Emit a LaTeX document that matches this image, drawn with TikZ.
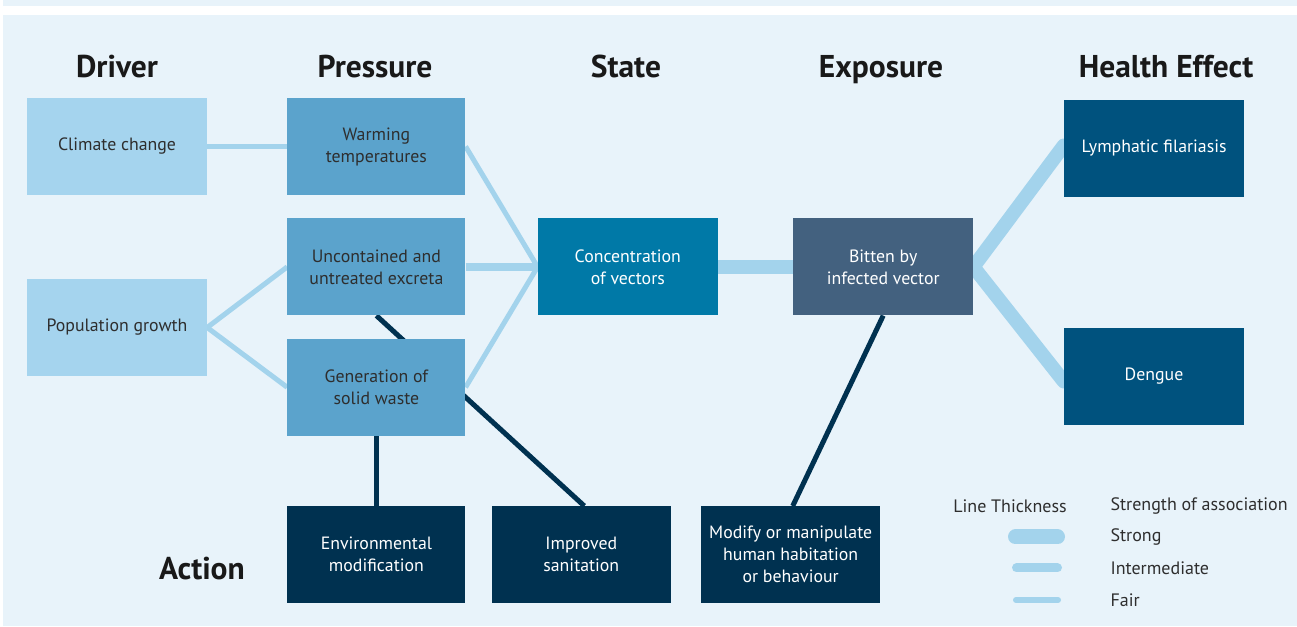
\documentclass[tikz,border=0pt]{standalone}
\usepackage{fontspec}
\setmainfont{PT Sans}
\usetikzlibrary{positioning}
\definecolor{bgcolor}{HTML}{E8F3FA}
\definecolor{drivercolor}{HTML}{A5D4EE}
\definecolor{presscolor}{HTML}{5BA3CC}
\definecolor{statecolor}{HTML}{0079A7}
\definecolor{expcolor}{HTML}{43617F}
\definecolor{healthcolor}{HTML}{00527E}
\definecolor{actcolor}{HTML}{003150}
\definecolor{linkcolor}{HTML}{A3D3EC}
\definecolor{txtcolor}{HTML}{2E2E2E}
\pgfdeclarelayer{bg}
\pgfdeclarelayer{links}
\pgfsetlayers{bg,links,main}

\begin{document}
\begin{tikzpicture}[
    x=1pt, y=1pt,
    box/.style={minimum width=180pt, minimum height=97pt, inner sep=2pt,
                font=\fontsize{17.8}{22}\selectfont, align=center, text=txtcolor},
    head/.style={anchor=base, font=\fontsize{31.5}{34}\selectfont\bfseries, text=black!90},
    fair/.style={linkcolor, line width=5pt},
    inter/.style={linkcolor, line width=8pt},
    strong/.style={linkcolor, line width=14pt, line cap=round, line join=round},
    act/.style={actcolor, line width=5pt},
    legend/.style={font=\fontsize{18}{21}\selectfont, text=txtcolor}
  ]
    \useasboundingbox (0,0) rectangle (1297,626);
    \begin{pgfonlayer}{bg}
      \fill[bgcolor] (3,620) rectangle (1297,626);
      \fill[bgcolor] (3,0) rectangle (1297,611);
    \end{pgfonlayer}

    %% Headers
    \node[head] (hdriver) at (117,548) {Driver};
    \node[head] (hpress)  at (375,548) {Pressure};
    \node[head] (hstate)  at (626,548) {State};
    \node[head] (hexp)    at (881,548) {Exposure};
    \node[head] (hhealth) at (1166,548) {Health Effect};
    \node[head] (haction) at (202,47) {Action};

    %% Driver + Pressure
    \node[box, fill=drivercolor] (climate) at (117,479.5) {Climate change};
    \node[box, fill=drivercolor] (pop) at (117,298.5) {Population growth};
    \node[box, fill=presscolor, minimum width=178pt, right=80pt of climate] (warm)
      {Warming\\temperatures};
    \node[box, fill=presscolor, minimum width=178pt, below=23pt of warm] (excreta)
      {Uncontained and\\untreated excreta};
    \node[box, fill=presscolor, minimum width=178pt, below=23pt of excreta] (waste)
      {Generation of\\solid waste};

    %% State + Exposure
    \node[box, fill=statecolor, text=white, right=72pt of excreta] (vectors)
      {Concentration\\of vectors};
    \node[box, fill=expcolor, text=white, right=75pt of vectors] (bitten)
      {Bitten by\\infected vector};

    %% Health effects
    \node[box, fill=healthcolor, text=white] (filaria) at (1154,477.5)
      {Lymphatic filariasis};
    \node[box, fill=healthcolor, text=white] (dengue) at (1154,249.5) {Dengue};

    %% Actions
    \node[box, fill=actcolor, text=white, minimum width=178pt, below=70pt of waste] (envmod)
      {Environmental\\modification};
    \node[box, fill=actcolor, text=white, minimum width=179pt, right=26pt of envmod] (sanit)
      {Improved\\sanitation};
    \node[box, fill=actcolor, text=white, minimum width=179pt, right=30pt of sanit] (habit)
      {Modify or manipulate\\human habitation\\or behaviour};

    %% Links
    \begin{pgfonlayer}{links}
      \draw[fair]  (climate.east) -- (warm.west);
      \draw[fair]  (pop.east) -- (excreta.west);
      \draw[fair]  (pop.east) -- (waste.west);
      \draw[fair]  (warm.east) -- (vectors.west);
      \draw[inter] (excreta.east) -- (vectors.west);
      \draw[fair]  (waste.east) -- (vectors.west);
      \draw[strong, line cap=butt] (vectors.east) -- (bitten.west);
      \draw[strong] ([yshift=3pt]filaria.west) -- (bitten.east) -- ([yshift=-5pt]dengue.west);
      \draw[act] (waste.south) -- (envmod.north);
      \draw[act] (excreta.south) -- ([xshift=3pt]sanit.north);
      \draw[act] (bitten.south) -- ([xshift=2pt]habit.north);
    \end{pgfonlayer}

    %% Legend
    \node[legend] (lthick) at (1010,120) {Line Thickness};
    \node[legend, anchor=west] (lstrength) at (1107,120) {Strength of association};
    \node[legend, anchor=west] (lstrong) at (1107,89) {Strong};
    \node[legend, anchor=west] (linter) at (1107,58) {Intermediate};
    \node[legend, anchor=west] (lfair) at (1107,26) {Fair};
    \coordinate (s1) at (1015.5,89);   \coordinate (s2) at (1057.5,89);
    \coordinate (i1) at (1016.5,58);   \coordinate (i2) at (1057.5,58);
    \coordinate (f1) at (1016,26);     \coordinate (f2) at (1058,26);
    \draw[strong, line width=15pt] (s1) -- (s2);
    \draw[inter, line width=9pt, line cap=round] (i1) -- (i2);
    \draw[fair, line width=6pt, line cap=round] (f1) -- (f2);
  \end{tikzpicture}
\end{document}
